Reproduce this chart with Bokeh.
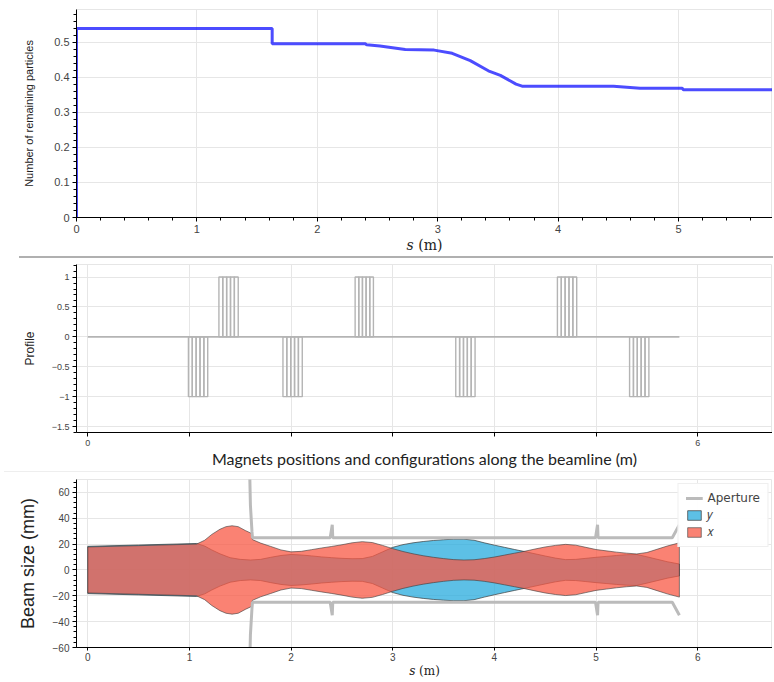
import numpy as np
from bokeh.plotting import figure
from bokeh.models import Range1d, FixedTicker, Legend, LegendItem, Div
from bokeh.layouts import column
from bokeh.embed import file_html
from bokeh.resources import INLINE

# ---------------- data ----------------
# remaining particles along s
loss_s = [0.0, 0.0, 1.625, 1.625, 2.40, 2.41, 2.52, 2.73, 2.97, 3.12, 3.27, 3.42,
          3.52, 3.65, 3.70, 4.46, 4.68, 5.03, 5.04, 5.80]
loss_n = [0.0, 0.540, 0.540, 0.496, 0.496, 0.493, 0.490, 0.480, 0.478, 0.469, 0.448,
          0.419, 0.406, 0.381, 0.375, 0.375, 0.369, 0.369, 0.365, 0.365]

# magnets (quadrupoles)
magnet_start = [0.99, 1.29, 1.92, 2.63, 3.62, 4.62, 5.33]
magnet_end = [1.18, 1.48, 2.11, 2.81, 3.81, 4.81, 5.52]
magnet_sign = [-1, 1, -1, 1, -1, 1, -1]
magnet_slices = 5
beamline_start = 0.0
beamline_end = 5.82

# beam envelopes (mm)
env_x_s = [0.00, 0.50, 1.07, 1.15, 1.22, 1.30, 1.36, 1.42, 1.48, 1.55, 1.61, 1.62, 1.70,
           1.80, 1.90, 2.00, 2.10, 2.20, 2.30, 2.40, 2.50, 2.60, 2.70, 2.80, 2.90, 3.00,
           3.10, 3.20, 3.30, 3.40, 3.50, 3.60, 3.70, 3.80, 3.90, 4.00, 4.10, 4.20, 4.30,
           4.40, 4.50, 4.60, 4.70, 4.80, 4.90, 5.00, 5.10, 5.20, 5.30, 5.40, 5.50, 5.60,
           5.70, 5.82]
env_x = [17.8, 18.8, 20.0, 23.0, 27.5, 31.5, 33.5, 34.2, 33.5, 30.5, 28.3, 23.5, 20.8,
         18.2, 15.5, 14.0, 14.4, 15.7, 17.0, 18.2, 19.5, 21.0, 21.9, 21.2, 19.0, 16.5,
         14.3, 12.5, 11.0, 9.8, 8.8, 8.0, 7.7, 7.9, 8.8, 10.0, 11.5, 13.0, 14.5,
         16.2, 17.8, 19.0, 19.8, 19.2, 17.5, 15.8, 14.8, 13.8, 13.0, 12.4, 13.5, 16.0,
         18.5, 21.0]
env_y_s = [0.00, 0.50, 1.07, 1.15, 1.22, 1.30, 1.40, 1.50, 1.60, 1.70, 1.80, 1.90, 2.00,
           2.10, 2.20, 2.30, 2.40, 2.50, 2.60, 2.70, 2.80, 2.90, 3.00, 3.10, 3.20, 3.30,
           3.40, 3.50, 3.60, 3.70, 3.80, 3.90, 4.00, 4.10, 4.20, 4.30, 4.40, 4.50, 4.60,
           4.70, 4.80, 4.90, 5.00, 5.10, 5.20, 5.30, 5.40, 5.50, 5.60, 5.70, 5.82]
env_y = [18.3, 19.3, 20.5, 18.5, 15.5, 12.5, 9.5, 8.2, 7.7, 8.2, 9.8, 11.2, 12.0,
         11.6, 10.9, 10.1, 9.5, 9.0, 8.7, 8.8, 10.5, 14.0, 17.5, 19.6, 21.0, 22.0,
         22.8, 23.4, 23.8, 23.8, 23.0, 21.0, 19.2, 17.5, 15.8, 14.2, 12.5, 10.8, 9.2,
         8.0, 8.2, 9.0, 9.8, 10.5, 11.2, 11.8, 12.0, 10.2, 8.3, 6.4, 4.6]

# aperture (mm, half-size)
aperture_s = [1.50, 1.58, 1.60, 1.615, 1.62, 2.385, 2.405, 2.41, 4.995, 5.015, 5.02,
              5.75, 5.82]
aperture = [2000, 120, 50, 30, 25, 25, 35, 25, 25, 35, 25, 25, 35]

# tick labels
top_yticks = [0, 0.1, 0.2, 0.3, 0.4, 0.5]
top_ylabels = ["0", "0.1", "0.2", "0.3", "0.4", "0.5"]
mid_yticks = [1, 0.5, 0, -0.5, -1, -1.5]
mid_ylabels = ["1", "0.5", "0", "\u22120.5", "\u22121", "\u22121.5"]
mid_xticks = [0, 1, 2, 3, 4, 5, 6]
mid_xlabels = ["0", "", "", "", "", "", "6"]
bot_yticks = [-60, -40, -20, 0, 20, 40, 60]
bot_ylabels = ["\u221260", "\u221240", "\u221220", "0", "20", "40", "60"]

TICK_FONT = "Liberation Sans"
W = 772


def style_axes(p, tick_size):
    for ax in (p.xaxis[0], p.yaxis[0]):
        ax.major_label_text_font = TICK_FONT
        ax.major_label_text_font_size = tick_size
        ax.major_label_text_color = "#444444"
        ax.axis_label_text_font_style = "normal"
        ax.axis_label_text_color = "#222222"
        ax.major_tick_out = 4
        ax.major_tick_in = 0
        ax.minor_tick_out = 3
        ax.major_label_standoff = 3
    p.grid.grid_line_color = "#e6e6e6"


# ---------------- top: remaining particles ----------------
p1 = figure(width=W, height=255, output_backend="svg", toolbar_location=None,
            x_range=Range1d(0, 5.78), y_range=Range1d(0, 0.594),
            min_border_left=75, min_border_right=0, min_border_top=9, min_border_bottom=38)
p1.line(loss_s, loss_n, line_color="blue", line_alpha=0.7, line_width=3)
style_axes(p1, "11px")
p1.yaxis.ticker = FixedTicker(ticks=top_yticks, minor_ticks=list(np.round(np.arange(0, 0.6, 0.02), 3)))
p1.yaxis.major_label_overrides = dict(zip(top_yticks, top_ylabels))
p1.yaxis.axis_label = "Number of remaining particles"
p1.yaxis.axis_label_text_font = TICK_FONT
p1.yaxis.axis_label_text_font_size = "11px"
p1.yaxis.axis_label_standoff = 16
p1.xaxis.axis_label = "\U0001D460 (m)"
p1.xaxis.axis_label_text_font = "DejaVu Serif"
p1.xaxis.axis_label_text_font_size = "14px"
p1.xaxis.axis_label_standoff = 1
p1.outline_line_color = "#e6e6e6"

sep1 = Div(text="", width=754, height=2, margin=(1, 0, 1, 19),
           styles={"background-color": "#b0b0b0"})

# ---------------- middle: magnets profile ----------------
p2 = figure(width=W, height=211, output_backend="svg", toolbar_location=None,
            x_range=Range1d(-0.111, 6.736), y_range=Range1d(-1.6, 1.21),
            min_border_left=76, min_border_right=0, min_border_top=5, min_border_bottom=37)
p2.line([beamline_start, beamline_end], [0, 0], line_color="#b4b4b4", line_width=1.6)
for a, b, sgn in zip(magnet_start, magnet_end, magnet_sign):
    edges = np.linspace(a, b, magnet_slices + 1)
    p2.quad(left=edges[:-1], right=edges[1:], bottom=min(0, sgn), top=max(0, sgn),
            fill_alpha=0, line_color="#b4b4b4", line_width=1.4)
style_axes(p2, "9px")
p2.xaxis.ticker = FixedTicker(ticks=mid_xticks)
p2.xaxis.major_label_overrides = dict(zip(mid_xticks, mid_xlabels))
p2.yaxis.ticker = FixedTicker(ticks=mid_yticks, minor_ticks=list(np.round(np.arange(-1.6, 1.25, 0.1), 2)))
p2.yaxis.major_label_overrides = dict(zip(mid_yticks, mid_ylabels))
p2.yaxis.axis_label = "Profile"
p2.yaxis.axis_label_text_font = TICK_FONT
p2.yaxis.axis_label_text_font_size = "12px"
p2.yaxis.axis_label_standoff = 12
p2.xaxis.axis_label = "Magnets positions and configurations along the beamline (m)"
p2.xaxis.axis_label_text_font = "Lato"
p2.xaxis.axis_label_text_font_size = "16px"
p2.xaxis.axis_label_standoff = 0
p2.outline_line_color = "#e6e6e6"

sep2 = Div(text="", width=770, height=1, margin=(1, 0, 1, 4),
           styles={"background-color": "#eeeeee"})

# ---------------- bottom: beam envelopes ----------------
p3 = figure(width=W, height=207, output_backend="svg", toolbar_location=None,
            x_range=Range1d(-0.111, 6.736), y_range=Range1d(-60, 70),
            min_border_left=76, min_border_right=0, min_border_top=6, min_border_bottom=30)
ys = np.array(env_y_s)
yv = np.array(env_y)
xs = np.array(env_x_s)
xv = np.array(env_x)
r_y = p3.patch(np.concatenate([ys, ys[::-1]]), np.concatenate([yv, -yv[::-1]]),
               fill_color="#27abde", fill_alpha=0.75, line_color="#3a3a3a",
               line_alpha=0.7, line_width=1)
r_x = p3.patch(np.concatenate([xs, xs[::-1]]), np.concatenate([xv, -xv[::-1]]),
               fill_color="#f85844", fill_alpha=0.75, line_color="#3a3a3a",
               line_alpha=0.6, line_width=1)
aps = np.array(aperture_s)
apv = np.array(aperture, dtype=float)
r_a1 = p3.line(aps, apv, line_color="#bbbbbb", line_width=3)
r_a2 = p3.line(aps, -apv, line_color="#bbbbbb", line_width=3)
style_axes(p3, "10px")
p3.xaxis.major_tick_out = 3
p3.xaxis.major_label_standoff = 2
p3.xaxis.ticker = FixedTicker(ticks=mid_xticks)
p3.yaxis.ticker = FixedTicker(ticks=bot_yticks, minor_ticks=list(range(-60, 71, 4)))
p3.yaxis.major_label_overrides = dict(zip(bot_yticks, bot_ylabels))
p3.yaxis.axis_label = "Beam size (mm)"
p3.yaxis.axis_label_text_font = TICK_FONT
p3.yaxis.axis_label_text_font_size = "18px"
p3.yaxis.axis_label_standoff = 12
p3.xaxis.axis_label = "\U0001D460 (m)"
p3.xaxis.axis_label_text_font = "DejaVu Serif"
p3.xaxis.axis_label_text_font_size = "12px"
p3.xaxis.axis_label_standoff = 0
p3.outline_line_color = "#e6e6e6"

legend = Legend(items=[LegendItem(label="Aperture", renderers=[r_a1, r_a2]),
                       LegendItem(label="\U0001D466", renderers=[r_y]),
                       LegendItem(label="\U0001D465", renderers=[r_x])],
                location="top_right")
legend.label_text_font = "DejaVu Sans"
legend.label_text_font_size = "12px"
legend.glyph_width = 17
legend.glyph_height = 12
legend.label_height = 12
legend.spacing = 3
legend.padding = 7
legend.margin = 4
legend.label_standoff = 5
legend.border_line_color = "#e0e0e0"
p3.add_layout(legend)

layout = column(p1, sep1, p2, sep2, p3)
open("out.html", "w").write(file_html(layout, INLINE))
